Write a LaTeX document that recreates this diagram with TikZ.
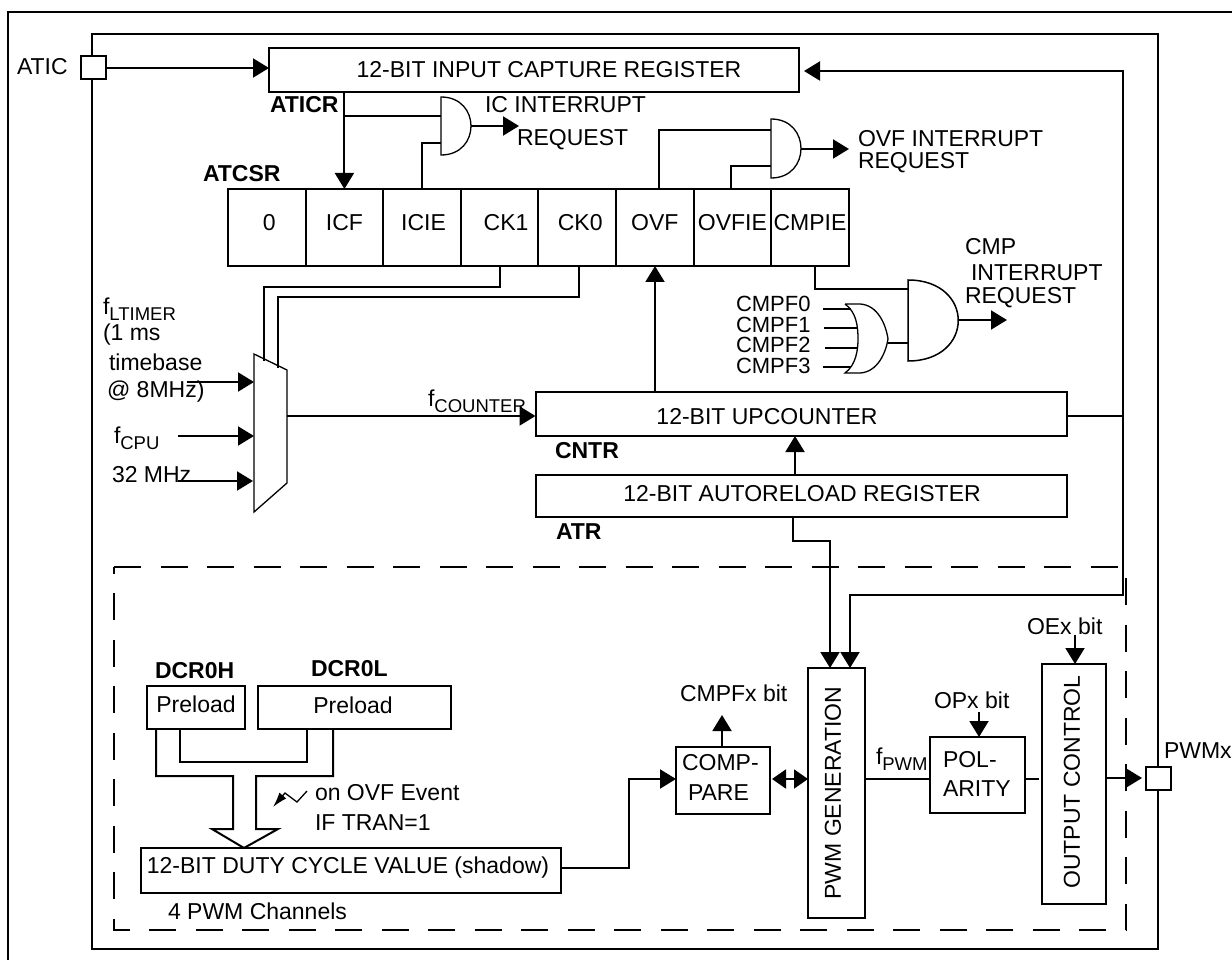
\documentclass[tikz,border=0pt]{standalone}
\usepackage{fontspec}
\setmainfont{Liberation Sans}
\usetikzlibrary{arrows.meta,positioning,calc}
\newcommand{\sigsub}[1]{f\raisebox{-.28em}{\fontsize{18.5}{19}\selectfont #1}}
\begin{document}
\begin{tikzpicture}[
    x=1pt,y=-1pt,line width=2pt,
    font=\fontsize{23}{23}\selectfont,
    box/.style={draw,outer sep=0pt,inner sep=0pt,align=center},
    cell/.style={box,minimum width=77.6pt,minimum height=77pt,text height=16pt,text depth=9pt},
    pin/.style={box,fill=white,minimum width=25pt,minimum height=23pt},
    txt/.style={inner sep=0pt,anchor=west},
    flaglabel/.style={txt,font=\fontsize{22}{22}\selectfont},
    reglabel/.style={txt,font=\fontsize{23}{23}\selectfont\bfseries},
    vtxt/.style={inner sep=0pt,rotate=90},
    arr/.style={-{Triangle[length=16pt,width=19pt]}},
    gate/.style={line width=1.3pt},
  ]
    \useasboundingbox (0,0) rectangle (1232,960);
    % frames
    \draw (8,960)--(8,12)--(1232,12);
    \draw (92,34) rectangle (1158,949);
    \draw[dash pattern=on 27pt off 19.5pt] (114,567)--(1126,567)--(1126,930)--(114,930)--cycle;
    % pins
    \node[pin] (atic) at (93.5,68) {};
    \node[txt] (aticl) at (16,67) {ATIC};
    \node[pin] (pwmx) at (1158,778.5) {};
    \node[txt] (pwmxl) at (1163,751) {PWMx};
    % capture register
    \node[box,minimum width=530pt,minimum height=44pt] (icr) at (534,70) {};
    \node[inner sep=0pt] (icrt) at (549,70) {12-BIT INPUT CAPTURE REGISTER};
    \node[reglabel] (aticrl) at (269,105) {ATICR};
    \node[reglabel] (atcsrl) at (202,174) {ATCSR};
    % status register
    \node[cell,anchor=north west] (r0) at (228,189) {\hspace*{5pt}0};
    \node[cell,right=0pt of r0] (ricf) {ICF};
    \node[cell,right=0pt of ricf] (ricie) {\hspace*{3pt}ICIE};
    \node[cell,right=0pt of ricie] (rck1) {\hspace*{13pt}CK1};
    \node[cell,right=0pt of rck1] (rck0) {\hspace*{6pt}CK0};
    \node[cell,right=0pt of rck0] (rovf) {OVF};
    \node[cell,right=0pt of rovf] (rovfie) {OVFIE};
    \node[cell,right=0pt of rovfie] (rcmpie) {CMPIE};
    % gates
    \draw[gate] (441,97)--(441,155) .. controls (481,155) and (481,97) .. (441,97)--cycle;
    \coordinate (and1a) at (441,116); \coordinate (and1b) at (441,143); \coordinate (and1o) at (471,126);
    \draw[gate] (771,119)--(771,178) .. controls (811,178) and (811,119) .. (771,119)--cycle;
    \coordinate (and2a) at (771,130); \coordinate (and2b) at (771,166); \coordinate (and2o) at (801,149);
    \draw[line width=1.5pt] (908,280)--(908,361) .. controls (975,361) and (975,280) .. (908,280)--cycle;
    \coordinate (and3a) at (908,289); \coordinate (and3b) at (908,343); \coordinate (and3o) at (958,320);
    \draw[gate] (845,304)--(860,304) .. controls (878,305) and (886,325) .. (888,339)
      .. controls (886,352) and (878,372) .. (860,373)--(845,373)
      .. controls (856,365) and (858,350) .. (858,339) .. controls (858,325) and (856,312) .. (845,304);
    \coordinate (oro) at (888,343);
    % interrupt texts
    \node[txt] (icintl) at (484,105) {IC INTERRUPT};
    \node[txt] (icreql) at (516,140) {REQUEST};
    \node[txt] (ovfintl) at (857,139) {OVF INTERRUPT};
    \node[txt] (ovfreql) at (857,163) {REQUEST};
    \node[txt] (cmpl) at (964,247) {CMP};
    \node[txt] (cmpintl) at (970,273) {INTERRUPT};
    \node[txt] (cmpreql) at (964,298) {REQUEST};
    \node[flaglabel] (f0l) at (735,304) {CMPF0};
    \node[flaglabel] (f1l) at (735,324.5) {CMPF1};
    \node[flaglabel] (f2l) at (735,345) {CMPF2};
    \node[flaglabel] (f3l) at (735,366) {CMPF3};
    % counter and reload
    \node[box,minimum width=531pt,minimum height=44pt] (cntr) at (801,414) {};
    \node[inner sep=0pt] (cntrt) at (767,417) {12-BIT UPCOUNTER};
    \node[box,minimum width=531pt,minimum height=42pt] (atr) at (801,496) {};
    \node[inner sep=0pt] (atrt) at (802,494) {12-BIT AUTORELOAD REGISTER};
    \node[reglabel] (cntrl) at (554,451) {CNTR};
    \node[reglabel] (atrl) at (555,532) {ATR};
    % clock mux
    \draw[gate] (254,354)--(287,370)--(287,483)--(254,512)--cycle;
    \coordinate (muxo) at (287,416);
    \node[txt] (ltimerl) at (102,309) {\sigsub{LTIMER}};
    \node[txt] (msl) at (102,335) {(1 ms};
    \node[txt] (tbl) at (108,362) {timebase};
    \node[txt] (mhzl) at (106,392) {@ 8MHz)};
    \node[txt] (cpul) at (113,438) {\sigsub{CPU}};
    \node[txt] (m32l) at (111,475) {32 MHz};
    \node[txt] (fcntl) at (427,401) {\sigsub{COUNTER}};
    % shadow part
    \node[box,minimum width=98pt,minimum height=43pt] (pre0) at (196,707.5) {};
    \node[inner sep=0pt] (pre0t) at (196,704) {Preload};
    \node[box,minimum width=193pt,minimum height=43pt] (pre1) at (354.5,707.5) {};
    \node[inner sep=0pt] (pre1t) at (353,705) {Preload};
    \node[reglabel] (dcrhl) at (154,671) {DCR0H};
    \node[reglabel] (dcrll) at (310,669) {DCR0L};
    \node[box,minimum width=420pt,minimum height=45pt] (duty) at (351,870.5) {};
    \node[inner sep=0pt] (dutyt) at (348,868) {12-BIT DUTY CYCLE VALUE (shadow)};
    \node[txt] (chl) at (167,911) {4 PWM Channels};
    \node[txt] (ovfevl) at (314,793) {on OVF Event};
    \node[txt] (tranl) at (314,823) {IF TRAN=1};
    \node[box,minimum width=94pt,minimum height=67pt] (comp) at (723,780.5) {};
    \node[txt] (compa) at (681,763) {COMP-};
    \node[txt] (compb) at (687,793) {PARE};
    \node[txt] (cmpfl) at (679,693) {CMPFx bit};
    \node[box,minimum width=57pt,minimum height=250pt] (gen) at (836.5,793) {};
    \node[vtxt] (gent) at (833,793) {PWM GENERATION};
    \node[box,minimum width=95pt,minimum height=76pt] (pol) at (977.5,775) {};
    \node[txt] (pola) at (942,760) {POL-};
    \node[txt] (polb) at (942,789) {ARITY};
    \node[txt] (opl) at (933,700) {OPx bit};
    \node[box,minimum width=64pt,minimum height=240pt] (oc) at (1074,784) {};
    \node[vtxt] (oct) at (1072,782) {OUTPUT CONTROL};
    \node[txt] (oel) at (1026,626) {OEx bit};
    \node[txt] (fpwml) at (875,759) {\sigsub{PWM}};
    % top connections
    \draw[arr] (atic.east)--(icr.west |- atic);
    \draw[arr] (icr.south -| ricf)--(ricf.north);
    \draw (icr.south -| ricf)|-(and1a);
    \draw (ricie.north)|-(and1b);
    \draw[arr] (and1o)--++(48,0);
    \draw (rovf.north -| 659,0)|-(and2a);
    \draw (rovfie.north -| 731,0)|-(and2b);
    \draw[arr] (and2o)--++(48,0);
    \draw (rcmpie.south -| 815,0)|-(and3a);
    \draw (oro)--(and3b);
    \draw[arr] (and3o)--++(49,0);
    \draw (823,309)--(851,309);
    \draw (824,328)--(857,328);
    \draw (825,348)--(857,348);
    \draw (823,367)--(851,367);
    % select lines
    \draw (rck1.south)|-(264,287)--(264,361);
    \draw (rck0.south -| 579,0)|-(278,297)--(278,368);
    \draw[arr] (187,382)--(254,382);
    \draw[arr] (178,436)--(254,436);
    \draw[arr] (178,481)--(253,481);
    \draw[arr] (muxo)--(cntr.west |- muxo);
    \draw[arr] (cntr.north -| 655,0)--(rovf.south -| 655,0);
    \draw[arr] (atr.north -| 795,0)--(cntr.south -| 795,0);
    % to pwm generation
    \draw[arr] (atr.south -| 793,0)--(793,541)--(830,541)--(gen.north -| 830,0);
    \draw[arr] (cntr.east |- 0,416)--(1123,416)--(1123,595)--(850,595)--(gen.north -| 850,0);
    \draw[arr] (1123,416)--(1123,71)--(804,71);
    % shadow connections
    \draw (pre0.south -| 180,0)--(180,762)--(307,762)--(pre1.south -| 307,0);
    \draw (pre0.south -| 156,0)--(156,776)--(233,776)--(233,829)--(212,829)--(duty.north -| 244,0)
      --(278,829)--(256,829)--(256,776)--(333,776)--(pre1.south -| 333,0);
    \draw[gate,-{Latex[length=15pt,width=9pt]}] (307,791)--(297,802)--(285,793)--(273,807);
    \draw[arr] (duty.east |- 0,868)--(629,868)--(629,779)--(comp.west |- 0,779);
    \draw[arr] (comp.north -| 722,0)--(722,715);
    \draw[{Triangle[length=14pt,width=19pt]}-{Triangle[length=14pt,width=19pt]}] (772,779)--(gen.west |- 0,779);
    \draw (gen.east |- 0,779)--(pol.west |- 0,779);
    \draw (pol.east |- 0,779)--(1039,779);
    \draw[arr] (979,712)--(pol.north -| 979,0);
    \draw[arr] (1075,635)--(oc.north -| 1075,0);
    \draw[arr] (oc.east |- 0,778)--(1142,778);
  \end{tikzpicture}
\end{document}
